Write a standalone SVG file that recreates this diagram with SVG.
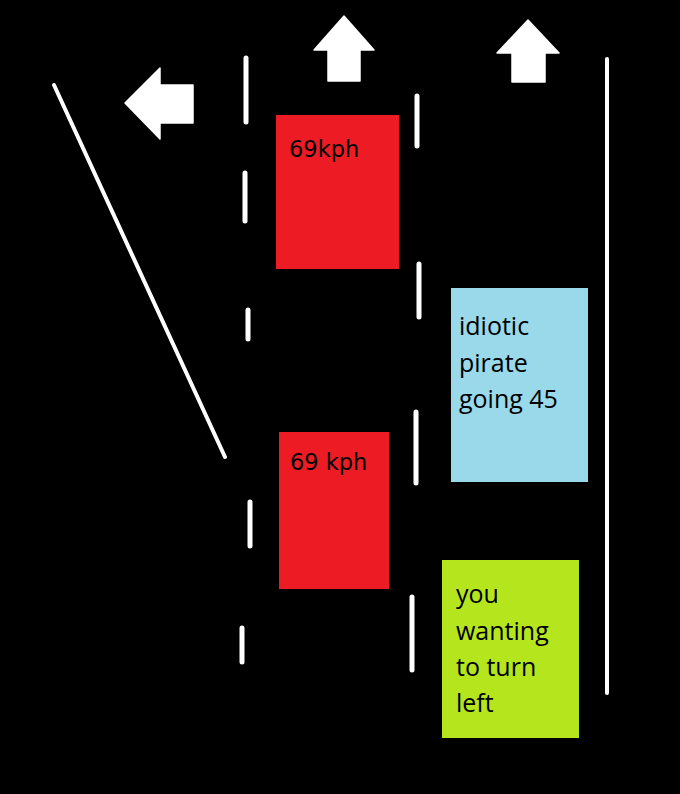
<svg xmlns="http://www.w3.org/2000/svg" width="680" height="794" viewBox="0 0 680 794">
<style>
.line{stroke:#fff;stroke-width:5;stroke-linecap:round;fill:none}
.arrow{fill:#fff;stroke:#fff;stroke-width:1.5;stroke-linejoin:round}
.kph{font-family:"DejaVu Sans",sans-serif;font-size:22.5px;fill:#000}
.note{font-family:"Open Sans",sans-serif;font-size:25px;fill:#000}
</style>
<rect x="0" y="0" width="680" height="794" fill="#000"/>
<g id="markings">
<line class="line" x1="54" y1="85" x2="225" y2="457" style="stroke-width:4"/>
<line class="line" x1="607" y1="59" x2="607" y2="693" style="stroke-width:4"/>
<line class="line" x1="246" y1="58" x2="246" y2="122"/>
<line class="line" x1="245" y1="173" x2="245" y2="221"/>
<line class="line" x1="248" y1="310" x2="248" y2="339"/>
<line class="line" x1="250" y1="502" x2="250" y2="546"/>
<line class="line" x1="242" y1="628" x2="242" y2="662"/>
<line class="line" x1="417" y1="96" x2="417" y2="146"/>
<line class="line" x1="419" y1="264" x2="419" y2="317"/>
<line class="line" x1="416" y1="412" x2="416" y2="483"/>
<line class="line" x1="412" y1="597" x2="412" y2="670"/>
</g>
<g id="arrows">
<polygon id="arrow-left" class="arrow" points="125,103 160,68 160,85 193,85 193,123 160,123 160,139"/>
<polygon id="arrow-up-1" class="arrow" points="344,16 374,50 360,50 360,81 328,81 328,50 314,50"/>
<polygon id="arrow-up-2" class="arrow" points="528,20 559,53 545,53 545,82 512,82 512,53 497,53"/>
</g>
<g id="car-1">
<rect x="276" y="115" width="123" height="154" fill="#ED1C24"/>
<text class="kph" x="289" y="157">69kph</text>
</g>
<g id="car-2">
<rect x="279" y="432" width="110" height="157" fill="#ED1C24"/>
<text class="kph" x="290" y="470">69 kph</text>
</g>
<g id="pirate">
<rect x="451" y="288" width="137" height="194" fill="#99D9EA"/>
<text class="note" x="459" y="335">idiotic</text>
<text class="note" x="459" y="372">pirate</text>
<text class="note" x="459" y="408">going 45</text>
</g>
<g id="you">
<rect x="442" y="560" width="137" height="178" fill="#B5E61D"/>
<text class="note" x="456" y="603">you</text>
<text class="note" x="456" y="640">wanting</text>
<text class="note" x="456" y="676">to turn</text>
<text class="note" x="456" y="712">left</text>
</g>
</svg>
